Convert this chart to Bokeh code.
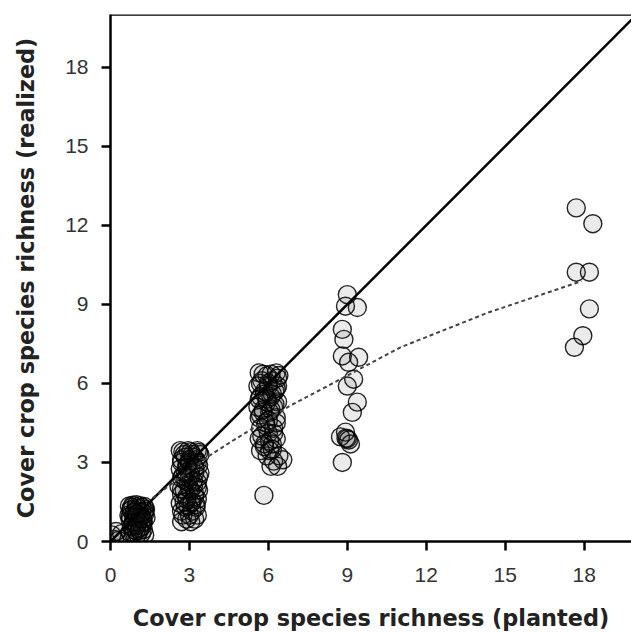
from bokeh.plotting import figure
from bokeh.models import Range1d, Span, FixedTicker, ColumnDataSource
from bokeh.embed import file_html
from bokeh.resources import INLINE

# ---- data ----
x_ticks = [0, 3, 6, 9, 12, 15, 18]
y_ticks = [0, 3, 6, 9, 12, 15, 18]

# planted 0
x0 = [0.05, 0.15, 0.30, 0.42, 0.22]
y0 = [0.25, 0.08, 0.04, 0.30, 0.38]

# planted 1
x1 = [0.72, 0.85, 0.98, 1.12, 1.28, 0.78, 0.92, 1.05, 1.20, 1.33, 0.70, 0.88, 1.00, 1.15, 1.30,
      0.75, 0.90, 1.08, 1.22, 1.35, 0.80, 0.95, 1.10, 1.25, 0.74, 0.86, 1.02, 1.18, 1.30, 0.97,
      0.80, 1.00, 1.20, 0.90, 1.10, 1.30, 0.75, 0.95, 1.15, 0.85, 1.05, 1.25, 0.80, 1.00, 1.20,
      0.90, 1.10, 0.78, 1.00, 1.22]
y1 = [1.35, 1.38, 1.40, 1.36, 1.33, 1.20, 1.15, 1.25, 1.10, 1.22, 1.00, 0.95, 1.02, 0.98, 1.05,
      0.80, 0.75, 0.85, 0.70, 0.90, 0.55, 0.60, 0.50, 0.45, 0.35, 0.30, 0.28, 0.32, 0.25, 0.40,
      1.30, 1.32, 1.30, 1.10, 1.12, 1.15, 0.95, 0.90, 0.92, 0.70, 0.72, 0.75, 0.60, 0.62, 0.58,
      0.45, 0.42, 1.20, 1.05, 0.85]

# planted 3
x3 = [2.65, 2.95, 3.30, 2.80, 3.10, 3.40, 2.70, 3.00, 3.25, 2.90, 3.35, 2.65, 3.05, 2.85, 3.20,
      3.40, 2.70, 3.00, 2.95, 3.30, 2.60, 3.15, 2.80, 3.05, 3.35, 2.70, 3.20, 2.90, 3.30, 2.65,
      3.05, 2.85, 3.25, 2.70, 3.10, 2.75, 3.00, 3.30, 2.90, 3.20, 2.70, 3.05,
      2.75, 3.05, 3.35, 2.85, 3.15, 2.70, 3.00, 3.30, 2.90, 3.20, 2.75, 3.05, 3.35, 2.85, 3.15,
      2.70, 3.00, 3.30, 2.90, 3.20, 2.80, 3.10, 2.95, 3.25]
y3 = [3.45, 3.45, 3.45, 3.30, 3.30, 3.30, 3.10, 3.10, 3.10, 2.90, 2.90, 2.75, 2.75, 2.60, 2.60,
      2.60, 2.40, 2.40, 2.25, 2.25, 2.10, 2.10, 1.95, 1.95, 1.95, 1.80, 1.80, 1.60, 1.60, 1.45,
      1.45, 1.30, 1.30, 1.15, 1.15, 1.00, 1.00, 1.00, 0.85, 0.85, 0.75, 0.75,
      3.40, 3.40, 3.38, 3.20, 3.20, 3.00, 3.00, 3.00, 2.80, 2.80, 2.50, 2.50, 2.45, 2.30, 2.30,
      2.00, 2.00, 2.05, 1.70, 1.70, 1.50, 1.50, 1.35, 1.40]

# planted 6
x6 = [5.65, 6.30, 5.95, 6.40, 5.75, 6.15, 5.60, 6.00, 6.35, 5.85, 6.25, 5.70, 6.10, 5.95, 6.35,
      5.60, 6.20, 5.80, 6.05, 6.30, 5.65, 5.90, 5.70, 6.20, 6.00, 5.65, 6.30, 5.85, 6.15, 5.70,
      6.05, 5.95, 6.40, 6.20, 6.55, 6.35, 6.10, 5.83,
      5.80, 6.10, 6.35, 5.70, 6.00, 6.30, 5.85, 6.15, 5.65, 5.95, 6.25, 5.80, 6.10, 5.70, 6.00,
      6.30, 5.90, 6.20, 5.75, 6.05, 5.85, 6.15]
y6 = [6.40, 6.40, 6.30, 6.30, 6.10, 6.10, 5.90, 5.90, 5.90, 5.70, 5.70, 5.50, 5.50, 5.30, 5.30,
      5.10, 5.10, 4.90, 4.90, 4.70, 4.70, 4.50, 4.30, 4.30, 4.10, 3.90, 3.90, 3.70, 3.70, 3.45,
      3.45, 3.25, 3.25, 3.05, 3.10, 2.85, 2.85, 1.75,
      6.35, 6.35, 6.20, 6.00, 6.00, 5.80, 5.60, 5.60, 5.40, 5.40, 5.20, 5.00, 5.00, 4.80, 4.60,
      4.50, 4.40, 4.10, 4.00, 3.80, 3.60, 3.50]

# planted 9
x9 = [9.00, 9.38, 8.93, 8.81, 8.87, 8.81, 9.43, 9.05, 9.24, 9.00, 9.38, 9.19, 8.93, 8.74, 9.00,
      9.12, 8.81, 8.95, 9.05]
y9 = [9.37, 8.88, 8.93, 8.05, 7.67, 7.04, 6.99, 6.80, 6.16, 5.90, 5.29, 4.90, 4.15, 3.97, 3.90,
      3.70, 3.00, 3.92, 3.85]

# planted 18
x18 = [17.70, 18.33, 17.70, 18.20, 18.20, 17.95, 17.63]
y18 = [12.66, 12.06, 10.22, 10.22, 8.83, 7.81, 7.37]

# 1:1 line and fitted curve
one_x = [0, 20]
one_y = [0, 20]
fit_x = [1.6, 3.81, 4.57, 6.73, 8.74, 11.02, 14.36, 17.9]
fit_y = [1.65, 3.29, 3.78, 5.10, 6.16, 7.37, 8.69, 9.88]

planted = x0 + x1 + x3 + x6 + x9 + x18
realized = y0 + y1 + y3 + y6 + y9 + y18

p = figure(width=631, height=633, x_range=Range1d(0, 19.8), y_range=Range1d(0, 20),
           output_backend="svg", toolbar_location=None,
           min_border_left=110, min_border_right=0, min_border_top=14, min_border_bottom=91)
p.background_fill_color = "white"
p.border_fill_color = "white"
p.outline_line_color = None
p.grid.visible = False

p.add_layout(Span(location=20, dimension="width", line_color="black", line_width=2.5))

src = ColumnDataSource(dict(x=planted, y=realized))
p.scatter("x", "y", source=src, size=18, marker="circle", fill_color="#222222", fill_alpha=0.09,
          line_color="black", line_alpha=0.85, line_width=1.4)

p.line(one_x, one_y, line_color="black", line_width=2.5)
p.line(fit_x, fit_y, line_color="#444444", line_width=2, line_dash="4 3")

for ax in (p.xaxis[0], p.yaxis[0]):
    ax.axis_line_color = "black"
    ax.axis_line_width = 2.5
    ax.major_tick_line_color = "black"
    ax.major_tick_line_width = 2.5
    ax.major_tick_out = 9
    ax.major_tick_in = 0
    ax.minor_tick_line_color = None
    ax.major_label_text_font = "Liberation Sans"
    ax.major_label_text_font_size = "21px"
    ax.major_label_text_color = "#333333"
    ax.axis_label_text_font = "DejaVu Sans"
    ax.axis_label_text_font_style = "bold"
    ax.axis_label_text_font_size = "22.4px"
    ax.axis_label_text_color = "#222222"

p.xaxis.ticker = FixedTicker(ticks=x_ticks)
p.yaxis.ticker = FixedTicker(ticks=y_ticks)
p.xaxis.axis_label = "Cover crop species richness (planted)"
p.yaxis.axis_label = "Cover crop species richness (realized)"
p.xaxis.major_label_standoff = 17
p.yaxis.major_label_standoff = 13
p.xaxis.axis_label_standoff = 20
p.yaxis.axis_label_standoff = 23

open("out.html", "w").write(file_html(p, INLINE))
